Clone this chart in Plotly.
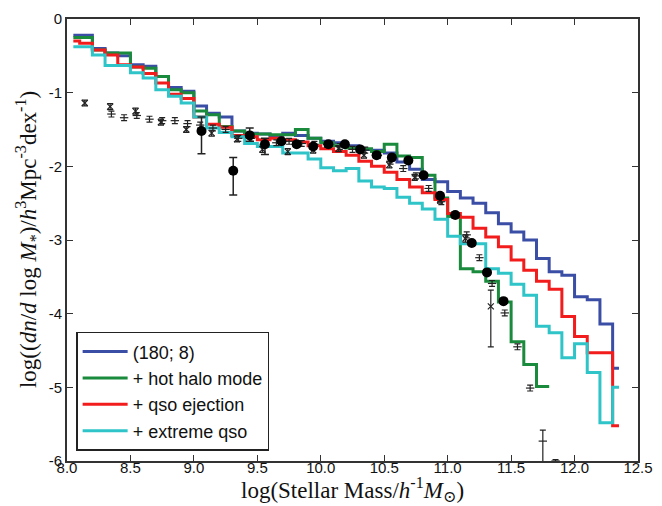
import plotly.graph_objects as go

# bin centres of the model mass functions (log M*)
mass_bins = [8.05, 8.15, 8.25, 8.35, 8.45, 8.55, 8.65, 8.75, 8.85, 8.95,
             9.05, 9.15, 9.25, 9.35, 9.45, 9.55, 9.65, 9.75, 9.85, 9.95,
             10.05, 10.15, 10.25, 10.35, 10.45, 10.55, 10.65, 10.75, 10.85, 10.95,
             11.05, 11.15, 11.25, 11.35, 11.45, 11.55, 11.65, 11.75, 11.85, 11.95,
             12.05, 12.15, 12.25, 12.35]

blue_180_8 = [-0.22, -0.22, -0.40, -0.46, -0.50, -0.62, -0.64, -0.78, -0.93, -0.98,
              -1.18, -1.28, -1.33, -1.52, -1.55, -1.56, -1.58, -1.55, -1.58, -1.62,
              -1.66, -1.68, -1.72, -1.77, -1.78, -1.82, -1.94, -2.04, -2.18, -2.21,
              -2.34, -2.43, -2.50, -2.63, -2.78, -2.89, -3.00, -3.25, -3.43, -3.48,
              -3.77, -3.81, -4.14, -4.74]

red_qso = [-0.30, -0.33, -0.42, -0.49, -0.62, -0.65, -0.74, -0.87, -1.02, -1.08,
           -1.33, -1.43, -1.47, -1.58, -1.60, -1.64, -1.62, -1.64, -1.67, -1.72,
           -1.76, -1.80, -1.85, -1.93, -2.00, -2.08, -2.18, -2.28, -2.36, -2.45,
           -2.64, -2.69, -2.84, -2.96, -3.09, -3.27, -3.41, -3.56, -3.67, -4.04,
           -4.31, -4.53, -4.53, -5.52]

cyan_extreme = [-0.375, -0.375, -0.49, -0.63, -0.63, -0.73, -0.80, -0.96, -1.05, -1.14,
                -1.33, -1.48, -1.54, -1.60, -1.69, -1.73, -1.73, -1.82, -1.82, -1.90,
                -2.02, -2.06, -2.03, -2.20, -2.28, -2.30, -2.42, -2.50, -2.58, -2.72,
                -2.95, -3.05, -3.05, -3.39, -3.45, -3.60, -3.75, -4.17, -4.26, -4.60,
                -4.41, -4.80, -5.48, -5.00]

# hot halo mode run stops at 11.8
green_mass = [8.05, 8.15, 8.25, 8.35, 8.45, 8.55, 8.65, 8.75, 8.85, 8.95,
              9.05, 9.15, 9.25, 9.35, 9.45, 9.55, 9.65, 9.75, 9.85, 9.95,
              10.05, 10.15, 10.25, 10.35, 10.45, 10.55, 10.65, 10.75, 10.85, 10.95,
              11.05, 11.15, 11.25, 11.35, 11.45, 11.55, 11.65, 11.75, 11.80]
green_hot = [-0.25, -0.25, -0.42, -0.46, -0.46, -0.65, -0.67, -0.78, -0.96, -1.00,
             -1.25, -1.30, -1.46, -1.52, -1.56, -1.56, -1.57, -1.57, -1.50, -1.62,
             -1.68, -1.72, -1.75, -1.76, -1.80, -1.70, -1.86, -1.88, -2.12, -2.43,
             -2.68, -3.39, -3.43, -3.56, -3.84, -4.38, -4.69, -4.99, -4.99]

# observations: filled circles
obs1_x = [9.06, 9.31, 9.44, 9.56, 9.69, 9.81, 9.94, 10.06, 10.19, 10.31,
          10.44, 10.56, 10.69, 10.81, 10.94, 11.06, 11.19, 11.31, 11.44]
obs1_y = [-1.52, -2.06, -1.58, -1.70, -1.66, -1.70, -1.73, -1.70, -1.70, -1.77,
          -1.85, -1.88, -1.92, -2.12, -2.40, -2.66, -3.04, -3.44, -3.83]
obs1_up = [0.19, 0.18, 0.10, 0.08, 0.03, 0.03, 0.03, 0.03, 0.03, 0.03,
           0.03, 0.03, 0.03, 0.03, 0.03, 0.03, 0.03, 0.03, 0.03]
obs1_dn = [0.31, 0.33, 0.08, 0.14, 0.03, 0.03, 0.03, 0.03, 0.03, 0.03,
           0.03, 0.03, 0.03, 0.03, 0.03, 0.03, 0.03, 0.03, 0.03]

# observations: crosses
obs2_x = [8.14, 8.34, 8.54, 8.74, 8.94, 9.14, 9.34, 9.54, 9.74, 9.94,
          10.14, 10.34, 10.54, 10.74, 10.94, 11.14, 11.34]
obs2_y = [-1.14, -1.19, -1.25, -1.40, -1.50, -1.55, -1.63, -1.77, -1.80, -1.78,
          -1.76, -1.85, -1.98, -2.15, -2.46, -2.98, -3.90]
obs2_up = [0.04, 0.04, 0.04, 0.04, 0.04, 0.04, 0.04, 0.04, 0.04, 0.04,
           0.04, 0.04, 0.04, 0.04, 0.04, 0.05, 0.22]
obs2_dn = [0.04, 0.04, 0.04, 0.04, 0.04, 0.04, 0.04, 0.04, 0.04, 0.04,
           0.04, 0.04, 0.04, 0.04, 0.04, 0.05, 0.55]

# observations: ticks
obs3_x = [8.35, 8.45, 8.55, 8.65, 8.75, 8.85, 8.95, 9.05, 9.15, 9.25,
          9.35, 9.45, 9.55, 9.65, 9.75, 9.85, 9.95, 10.05, 10.15, 10.25,
          10.35, 10.45, 10.55, 10.65, 10.75, 10.85, 10.95, 11.05, 11.15, 11.25,
          11.35, 11.45, 11.55, 11.65, 11.75, 11.85]
obs3_y = [-1.29, -1.34, -1.31, -1.36, -1.38, -1.38, -1.42, -1.44, -1.48, -1.50,
          -1.62, -1.62, -1.70, -1.68, -1.66, -1.69, -1.70, -1.70, -1.73, -1.77,
          -1.78, -1.85, -1.93, -2.03, -2.13, -2.30, -2.48, -2.66, -2.93, -3.24,
          -3.59, -3.99, -4.45, -5.01, -5.73, -6.00]
obs3_up = [0.04] * 34 + [0.15, 0.02]
obs3_dn = [0.04] * 34 + [0.35, 0.02]

x_title = "log(Stellar Mass/<i>h</i><sup>-1</sup><i>M</i><sub>⊙</sub>)"
y_title = ("log((<i>dn</i>/<i>d</i> log <i>M</i><sub>*</sub>)/<i>h</i><sup>3</sup>"
           "Mpc<sup>-3</sup>dex<sup>-1</sup>)")

series = [
    ("(180; 8)", mass_bins, blue_180_8, "#3b4ea6"),
    ("+ hot halo mode", green_mass, green_hot, "#1a8a3c"),
    ("+ qso ejection", mass_bins, red_qso, "#f21c1c"),
    ("+ extreme qso", mass_bins, cyan_extreme, "#2ec4c8"),
]

fig = go.Figure()
for name, xs, ys, col in series:
    fig.add_trace(go.Scatter(x=xs, y=ys, mode="lines", name=name,
                             line=dict(color=col, width=3, shape="hvh")))

err_col = "#222222"
fig.add_trace(go.Scatter(
    x=obs3_x, y=obs3_y, mode="markers", showlegend=False,
    marker=dict(symbol="line-ew", size=6, line=dict(color=err_col, width=1.2)),
    error_y=dict(type="data", symmetric=False, array=obs3_up, arrayminus=obs3_dn,
                 color=err_col, thickness=1.2, width=3)))
fig.add_trace(go.Scatter(
    x=obs2_x, y=obs2_y, mode="markers", showlegend=False,
    marker=dict(symbol="x-thin", size=6, line=dict(color=err_col, width=1.2)),
    error_y=dict(type="data", symmetric=False, array=obs2_up, arrayminus=obs2_dn,
                 color=err_col, thickness=1.2, width=3)))
fig.add_trace(go.Scatter(
    x=obs1_x, y=obs1_y, mode="markers", showlegend=False,
    marker=dict(symbol="circle", size=10, color="black"),
    error_y=dict(type="data", symmetric=False, array=obs1_up, arrayminus=obs1_dn,
                 color=err_col, thickness=1.5, width=4)))

x_ticks = [8.0, 8.5, 9.0, 9.5, 10.0, 10.5, 11.0, 11.5, 12.0, 12.5]
x_ticklabels = ["8.0", "8.5", "9.0", "9.5", "10.0", "10.5", "11.0", "11.5", "12.0", "12.5"]
y_ticks = [0, -1, -2, -3, -4, -5, -6]
y_ticklabels = ["0", "-1", "-2", "-3", "-4", "-5", "-6"]

tickfont = dict(family="Liberation Sans, Arial, sans-serif", size=15, color="#111")
serif = "Liberation Serif, DejaVu Serif, serif"

fig.update_layout(
    width=662, height=506,
    margin=dict(l=67, r=24, t=19, b=45, autoexpand=False),
    plot_bgcolor="white", paper_bgcolor="white",
    showlegend=True,
    legend=dict(x=0.016, y=0.023, xanchor="left", yanchor="bottom",
                bgcolor="white", bordercolor="#222", borderwidth=1.5,
                font=dict(family="Liberation Sans, Arial, sans-serif", size=18, color="#111"),
                tracegroupgap=0, itemwidth=45),
    xaxis=dict(range=[8.0, 12.5], tickvals=x_ticks, ticktext=x_ticklabels,
               ticks="inside", ticklen=6, tickwidth=1, tickcolor="#333",
               showline=True, linecolor="#333", linewidth=2, mirror="ticks",
               showgrid=False, zeroline=False, tickfont=tickfont, automargin=False,
               ticklabelstandoff=-8),
    yaxis=dict(range=[-6, 0], tickvals=y_ticks, ticktext=y_ticklabels,
               ticks="inside", ticklen=6, tickwidth=1, tickcolor="#333",
               showline=True, linecolor="#333", linewidth=2, mirror="ticks",
               showgrid=False, zeroline=False, tickfont=tickfont, automargin=False),
    annotations=[
        dict(text=x_title, xref="paper", yref="paper", x=0.5, y=-0.064,
             xanchor="center", yanchor="middle", showarrow=False,
             font=dict(family=serif, size=23, color="#111")),
        dict(text=y_title, xref="paper", yref="paper", x=-0.070, y=0.5,
             xanchor="center", yanchor="middle", textangle=-90, showarrow=False,
             font=dict(family=serif, size=23, color="#111")),
    ],
)

fig.write_html("out.html")
